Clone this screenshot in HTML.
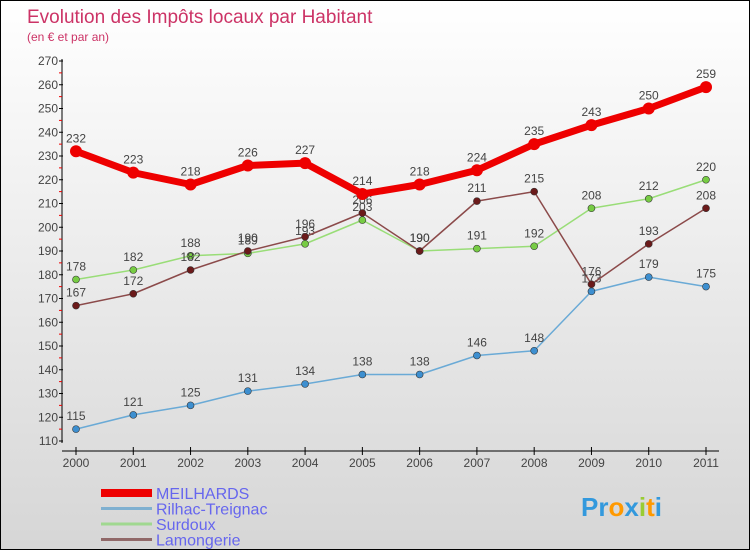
<!DOCTYPE html>
<html><head><meta charset="utf-8"><style>
body{margin:0}
#c{width:750px;height:550px;position:relative;box-sizing:border-box;border:1px solid #000;background:linear-gradient(#ffffff,#d6d6d6);font-family:"Liberation Sans",sans-serif;overflow:hidden}
</style></head><body>
<div id="c">
<svg id="s" width="750" height="550" style="position:absolute;left:0;top:0"></svg>
</div>
<script>
const years=["2000","2001","2002","2003","2004","2005","2006","2007","2008","2009","2010","2011"];
const yTicks=[110,120,130,140,150,160,170,180,190,200,210,220,230,240,250,260,270];
const meilhards=[232,223,218,226,227,214,218,224,235,243,250,259];
const rilhac=[115,121,125,131,134,138,138,146,148,173,179,175];
const surdoux=[178,182,188,189,193,203,190,191,192,208,212,220];
const lamongerie=[167,172,182,190,196,206,190,211,215,176,193,208];
const NS="http://www.w3.org/2000/svg",s=document.getElementById('s');
const X=i=>75+i*630/11, Y=v=>440-(v-110)*380/160;
function el(t,a,p){const e=document.createElementNS(NS,t);for(const k in a)e.setAttribute(k,a[k]);(p||s).appendChild(e);return e;}
let t=el('text',{x:26,y:22,fill:'#cc3366','font-size':19});t.textContent='Evolution des Impôts locaux par Habitant';

t=el('text',{x:26,y:40,fill:'#cc3366','font-size':12});t.textContent='(en € et par an)';

let ax=el('line',{x1:61,y1:58,x2:61,y2:442,stroke:'#000','stroke-width':1});

yTicks.forEach((v,i)=>{el('line',{x1:58,x2:62,y1:Y(v),y2:Y(v),stroke:'#000'});
 if(i<yTicks.length-1)el('line',{x1:58,x2:61,y1:Y(v+5),y2:Y(v+5),stroke:'#e00'});
 const tt=el('text',{x:57,y:Y(v)+4,'text-anchor':'end','font-size':12,fill:'#444'});tt.textContent=v;
 });
ax=el('line',{x1:61,y1:450,x2:718,y2:450,stroke:'#000'});

years.forEach((y,i)=>{el('line',{x1:X(i),x2:X(i),y1:446,y2:454,stroke:'#000'});
 const tt=el('text',{x:X(i),y:466,'text-anchor':'middle','font-size':12,fill:'#444'});tt.textContent=y;
 });
function series(d,color,w,r,name,fill){
 const g=el('g',{});
 el('polyline',{points:d.map((v,i)=>X(i)+','+Y(v)).join(' '),fill:'none',stroke:color,'stroke-width':w,'stroke-linejoin':'round'},g);
 d.forEach((v,i)=>{const c=el('circle',{cx:X(i),cy:Y(v),r:r,fill:fill,stroke:color==='#ee0000'?'#ee0000':'#333','stroke-width':color==='#ee0000'?0:0.6},g);
  
  const tt=el('text',{x:X(i),y:Y(v)-9,'text-anchor':'middle','font-size':12,fill:'#444'},g);tt.textContent=v;
  });
}
series(rilhac,'#6aaad6',1.5,3.5,'rilhac-treignac','#3d8fd0');
series(surdoux,'#99dd77',1.5,3.5,'surdoux','#77cc44');
series(lamongerie,'#8b4a4a',1.5,3.5,'lamongerie','#6b1a1a');
series(meilhards,'#ee0000',7,6,'meilhards','#ee0000');
const leg=[['MEILHARDS','#ee0000',8],['Rilhac-Treignac','#7fb0d0',3],['Surdoux','#a0d890',3],['Lamongerie','#906868',3]];
leg.forEach((l,i)=>{const y=492+i*15.5;
 const g=el('g',{});
 el('line',{x1:100,x2:151,y1:y,y2:y,stroke:l[1],'stroke-width':l[2]},g);
 const tt=el('text',{x:155,y:y+6,'font-size':16,fill:'#6666ee'},g);tt.textContent=l[0];});
t=el('text',{x:580,y:515,'font-size':26,'font-weight':'bold',fill:'#3399dd'});
t.innerHTML='<tspan fill="#3399dd">Pr</tspan><tspan fill="#ff9900">o</tspan><tspan fill="#3399dd">x</tspan><tspan fill="#99cc33">i</tspan><tspan fill="#ff9900">t</tspan><tspan fill="#3399dd">i</tspan>';

</script>
</body></html>
